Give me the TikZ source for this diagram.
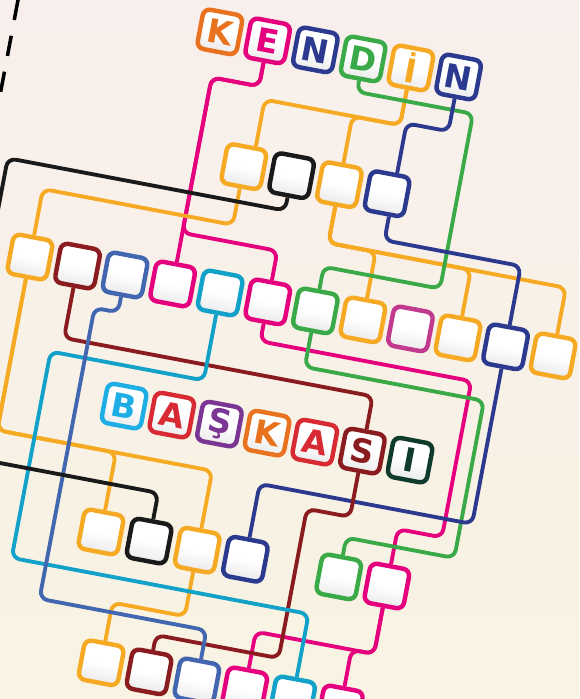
\documentclass[tikz,border=0pt]{standalone}
\usepackage{fontspec}
\usetikzlibrary{calc,shadows}
\newfontfamily\tilefont{DejaVu Sans}
\definecolor{cOrange}{HTML}{E8721E}
\definecolor{cPink}{HTML}{E5007D}
\definecolor{cNavy}{HTML}{2B3A8E}
\definecolor{cGreen}{HTML}{3AAA48}
\definecolor{cYellow}{HTML}{F6AA24}
\definecolor{cBlue}{HTML}{4266B0}
\definecolor{cCyan}{HTML}{12A1C9}
\definecolor{cSky}{HTML}{1FADE6}
\definecolor{cMaroon}{HTML}{8A1B1F}
\definecolor{cRed}{HTML}{D72A33}
\definecolor{cPurple}{HTML}{7B3592}
\definecolor{cDark}{HTML}{0F3B2C}
\definecolor{cPlum}{HTML}{C13A8E}
\definecolor{cBlack}{HTML}{1A1A1A}
\definecolor{bgTop}{HTML}{F8EFEC}
\definecolor{bgBottom}{HTML}{F8F3E2}

\begin{document}
\begin{tikzpicture}[
    x=0.03cm, y=-0.03cm,
    tile/.style={draw=#1, line width=3.8pt, rounded corners=6pt,
      minimum size=1.2cm, inner sep=0pt,
      top color=white, bottom color=black!8, middle color=white,
      drop shadow={opacity=0.22, shadow xshift=0.4pt, shadow yshift=-1.4pt}},
    letter/.style={tile=#1, text=#1, font=\tilefont\bfseries\fontsize{28}{28}\selectfont},
    wire/.style={draw=#1, line width=3.3pt, rounded corners=7pt},
    cutline/.style={draw=black, line width=3pt, dash pattern=on 17.5pt off 13.7pt}
]
  \useasboundingbox (0,0) rectangle (579,699);
  \clip (0,0) rectangle (579,699);
  \shade[top color=bgTop, bottom color=bgBottom] (0,0) rectangle (579,699);

  \begin{scope}[transform canvas={rotate=-10.7}]
    % --- the cut edge of the page ------------------------------------------
    \draw[cutline] (17.7,-3.5) -- (17.7,130);

    % --- letters of KENDİN on top, BAŞKASI in the middle ------------------
    \foreach \l/\c [count=\i from 0] in {K/cOrange, E/cPink, N/cNavy, D/cGreen, İ/cYellow, N/cNavy} {
      \node[letter=\c] (a\i) at ({222+48.6*\i}, -9.5) {\l};
    }
    \foreach \l/\c [count=\i from 0] in {B/cSky, A/cRed, Ş/cPurple, K/cOrange, A/cRed, S/cMaroon, I/cDark} {
      \node[letter=\c] (d\i) at ({197.4+48.5*\i}, 376) {\l};
    }

    % --- empty boxes, row by row --------------------------------------------
    \foreach \c [count=\i from 1] in {cYellow, cBlack, cYellow, cNavy} {
      \node[tile=\c] (b\i) at ({222+48.6*\i}, 118.5) {};
    }
    \foreach \c [count=\i from 0] in {cYellow, cMaroon, cBlue, cPink, cCyan, cPink,
        cGreen, cYellow, cPlum, cYellow, cNavy, cYellow} {
      \node[tile=\c] (c\i) at ({77.2+48.4*\i}, 247) {};
    }
    \foreach \c [count=\i from 0] in {cYellow, cBlack, cYellow, cNavy} {
      \node[tile=\c] (e\i) at ({198+49*\i}, 504) {};
    }
    \node[tile=cGreen] (f0) at (440, 504) {};
    \node[tile=cPink]  (f1) at (489, 504) {};
    \foreach \c [count=\i from 0] in {cYellow, cMaroon, cBlue, cPink, cCyan, cPink} {
      \node[tile=\c] (g\i) at ({222.5+48.7*\i}, 632.5) {};
    }

    % --- E ----------------------------------------------------------------
    \draw[wire=cPink] (a1.south) -- ++(0,24) -| (c3.north);
    \draw[wire=cPink] (a1.south) -- ++(0,24) -| (222.4,195) -| (c5.north);
    \draw[wire=cPink] (c5.south) |- (534,287) |- (489,446) -- (f1.north);
    \draw[wire=cPink] (f1.south) -- ++(0,47) -| (g3.north);
    \draw[wire=cPink] (f1.south) -- ++(0,47) -| (g5.north);

    % --- İ ----------------------------------------------------------------
    \draw[wire=cYellow] (a4.south) -- ++(0,36) -| ($(b1.north)+(8,0)$);
    \draw[wire=cYellow] (a4.south) -- ++(0,36) -| (b3.north);
    \draw[wire=cYellow] (b1.south) -- ++(0,37) -| (c0.north);
    \draw[wire=cYellow] (c0.south) -- ++(0,154) -| (e2.north);
    \draw[wire=cYellow] (c0.south) -- ++(0,154) -| (e0.north);
    \draw[wire=cYellow] (e2.south) -- ++(0,45) -| (g0.north);
    \draw[wire=cYellow] (b3.south) -- ++(0,37) -| (c11.north);
    \draw[wire=cYellow] (b3.south) -- ++(0,37) -| (c7.north);
    \draw[wire=cYellow] (b3.south) -- ++(0,37) -| (c9.north);

    % --- D ----------------------------------------------------------------
    \draw[wire=cGreen] (a3.south) |- (486,24) -- (486,202) -| (c6.north);
    \draw[wire=cGreen] (c6.south) |- (550,304) -- (550,464) -| (f0.north);

    % --- N ----------------------------------------------------------------
    \draw[wire=cNavy] (a5.south) -- ++(0,33) -| ($(b4.north)+(6,0)$);
    \draw[wire=cNavy] ($(b4.south)+(6,0)$) -- ++(0,24) -| (c10.north);
    \draw[wire=cNavy] (c10.south) -- ++(0,158) -| (e3.north);

    % --- S ----------------------------------------------------------------
    \draw[wire=cMaroon] (c1.south) -- ++(0,51) -| (d5.north);
    \draw[wire=cMaroon] (d5.south) |- (396,443) -- (396,595) -| (g1.north);

    % --- the lines that start among the boxes -------------------------------
    \draw[wire=cCyan] (c4.south) |- (115,336) -- (115,546) -| (g4.north);
    \draw[wire=cBlue] (c2.south) |- (150,285) -- (150,581) -| (g2.north);

    % --- black ones come in from the left -----------------------------------
    \coordinate (offL1) at (37,260);
    \coordinate (offL2) at (40,455);
    \draw[wire=cBlack] (b2.south) |- (37,154) -- (offL1);
    \draw[wire=cBlack] (offL2) -| (e1.north);
  \end{scope}
\end{tikzpicture}
\end{document}
